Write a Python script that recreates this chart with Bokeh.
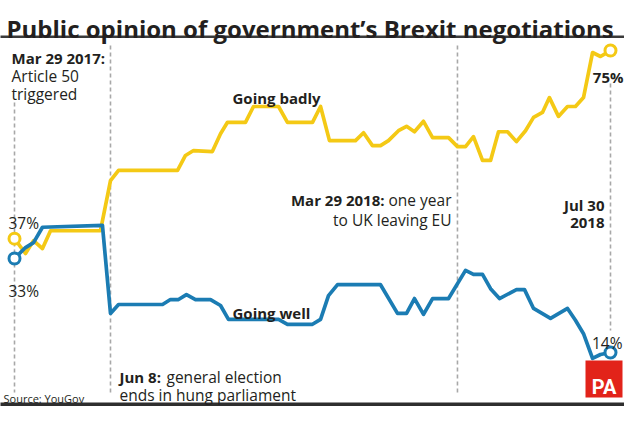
from bokeh.plotting import figure
from bokeh.models import Range1d, Label, BoxAnnotation
from bokeh.embed import file_html
from bokeh.resources import INLINE

# ---- data (days since Mar 29 2017, percent) ----
badly_days = [0, 9, 15.6, 22.9, 29.5, 70.4, 78.6, 85.2, 133.5, 140, 146.6, 162, 168.7, 174.4,
              189.1, 195.7, 216.2, 223.5, 244, 250.6, 257.9, 279.2, 285.8, 293.1, 299.7, 306.2,
              314.4, 321, 327.5, 334.9, 342.3, 355.4, 362.7, 369.3, 375.8, 383.2, 389.8, 396.3,
              403.7, 411, 418.4, 425, 432.3, 438, 445.4, 452.8, 459.3, 465.9, 473.3, 479.8, 488]
badly_vals = [37, 34.0, 36.6, 35.0, 38.6, 38.6, 48.7, 50.8, 50.8, 53.8, 54.8, 54.6, 58.2, 60.5,
              60.5, 63.7, 63.7, 60.5, 60.5, 63.7, 56.8, 56.8, 58.4, 55.8, 55.8, 56.8,
              58.8, 59.7, 58.6, 60.7, 57.4, 57.4, 55.6, 55.6, 57.6, 52.8, 52.8, 58.6,
              58.6, 56.6, 58.8, 61.5, 62.5, 65.5, 61.7, 63.7, 63.7, 65.5, 74.6, 73.8, 75]

well_days = [0, 9, 15.6, 22.9, 72, 78.6, 85.2, 121.2, 127.7, 134.3, 140.8, 148.2, 160.5, 168.7,
             175.2, 216.2, 223.5, 244, 250.6, 257.1, 264.5, 299.7, 313.6, 321, 327.5, 334.9,
             342.3, 355.4, 369.3, 375.8, 383.2, 389.8, 397.1, 411, 417.6, 425, 438.9, 452.8,
             459.3, 465.9, 473.3, 479.8, 488]
well_vals = [33, 35.2, 36.2, 39.3, 39.7, 21.9, 23.7, 23.7, 24.7, 24.7, 25.7, 24.7, 24.7, 23.5,
             20.7, 20.7, 19.7, 19.7, 20.7, 25.5, 27.7, 27.7, 21.9, 21.9, 24.9, 21.7,
             24.9, 24.9, 30.6, 29.8, 29.8, 26.9, 24.9, 26.7, 26.7, 22.9, 20.9, 22.9,
             20.5, 17.8, 12.8, 13.6, 14]

event_days = [0, 78.6, 362.7, 488]

start_labels = ["37%", "33%"]
end_labels = ["75%", "14%"]

YELLOW = "#f4c915"
BLUE = "#1b7cb3"
TXT = "#231f20"
GREY = "#a8a8a8"
FONT = "Open Sans"

W, H = 624, 406
K = 1.2213      # px per day
PXV = 4.95      # px per percent


def dx(sx):
    return (sx - 14) / K


def dy(sy):
    return 14 + (352 - sy) / PXV


p = figure(width=W, height=H, output_backend="svg", toolbar_location=None,
           x_range=Range1d(dx(0), dx(W)), y_range=Range1d(dy(H), dy(0)),
           min_border=0, min_border_left=0, min_border_right=0, min_border_top=0,
           min_border_bottom=0, x_axis_location=None, y_axis_location=None)
p.grid.visible = False
p.outline_line_color = None
p.background_fill_color = "white"
p.border_fill_color = "white"

# rules
p.add_layout(BoxAnnotation(left=dx(-10), right=dx(700), top=dy(35), bottom=dy(37.5),
                           fill_color="#3a3a3a", fill_alpha=1, line_color=None))
p.add_layout(BoxAnnotation(left=dx(-10), right=dx(700), top=dy(402), bottom=dy(410),
                           fill_color="#2e2e2e", fill_alpha=1, line_color=None))

# event lines
ev_top = [dy(102), dy(45), dy(45), dy(83)]
ev_bot = [dy(392), dy(394), dy(395), dy(330)]
p.segment(x0=event_days, x1=event_days, y0=ev_top, y1=ev_bot, line_color=GREY,
          line_width=1.6, line_dash="4 3")

# lines
p.line(badly_days, badly_vals, line_color=YELLOW, line_width=3.7, line_join="round")
p.line(well_days, well_vals, line_color=BLUE, line_width=3.7, line_join="round")

p.scatter([badly_days[0], badly_days[-1]], [badly_vals[0], badly_vals[-1]], size=11,
          fill_color="white", line_color=YELLOW, line_width=3)
p.scatter([well_days[0], well_days[-1]], [well_vals[0], well_vals[-1]], size=11,
          fill_color="white", line_color=BLUE, line_width=3)


def lab(sx, sy, text, bold=False, size="15.5px", align="left", color=TXT, font=FONT):
    p.add_layout(Label(x=dx(sx), y=dy(sy), text=text, text_font=font,
                       text_font_style="bold" if bold else "normal",
                       text_font_size=size, text_color=color, text_align=align,
                       text_baseline="alphabetic"))


lab(6, 28, "Public opinion of government\u2019s Brexit negotiations", bold=True, size="24px")

lab(11, 57, "Mar 29 2017:", bold=True, size="15px")
lab(11, 75, "Article 50")
lab(11, 93, "triggered")

lab(8, 222, start_labels[0])
lab(8, 290, start_labels[1])
lab(623, 76, end_labels[0], bold=True, size="15px", align="right")
lab(622, 342, end_labels[1], align="right")

lab(232, 97, "Going badly", bold=True, size="15px")
lab(232, 312, "Going well", bold=True, size="15px")

lab(384, 199, "Mar 29 2018:", bold=True, size="15px", align="right")
lab(451, 199, "one year", align="right")
lab(451, 219, "to UK leaving EU", align="right")

lab(604, 204, "Jul 30", bold=True, size="15px", align="right")
lab(604, 222, "2018", bold=True, size="15px", align="right")

lab(119, 376, "Jun 8:", bold=True, size="15px")
lab(166, 376, "general election")
lab(119, 394, "ends in hung parliament")

lab(3, 398, "Source: YouGov", size="11px")

# PA logo
p.add_layout(BoxAnnotation(left=dx(585), right=dx(622), top=dy(360), bottom=dy(397),
                           fill_color="#e2231a", fill_alpha=1, line_color=None))
lab(603.5, 386, "PA", bold=True, size="20px", align="center", color="white",
    font="Roboto")

open("out.html", "w").write(file_html(p, INLINE))
